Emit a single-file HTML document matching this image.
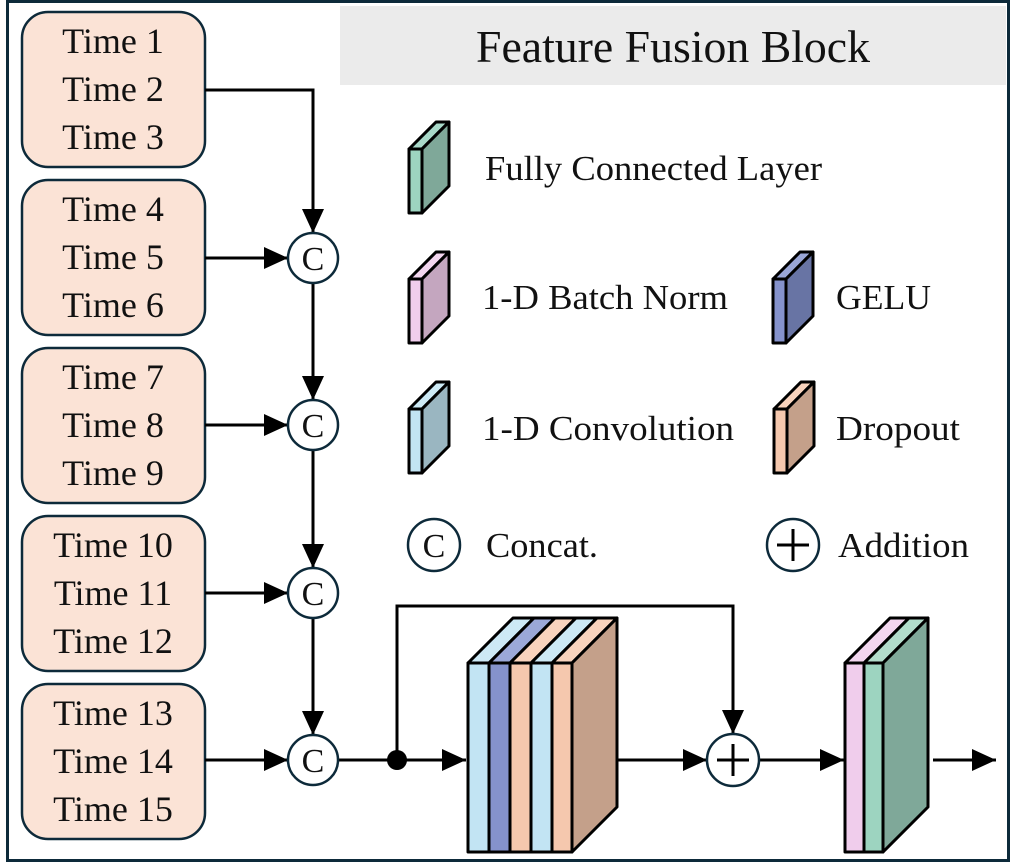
<!DOCTYPE html>
<html><head><meta charset="utf-8"><style>
html,body{margin:0;padding:0;background:#fff}
svg{display:block}
text{font-family:"Liberation Serif","Times New Roman","DejaVu Serif",serif;fill:#111}
</style></head><body>
<svg width="1016" height="867" viewBox="0 0 1016 867" xmlns="http://www.w3.org/2000/svg" font-family="Liberation Serif, Times New Roman, serif">
<defs>
<marker id="ah" markerWidth="24" markerHeight="22" refX="10" refY="5" orient="auto" markerUnits="userSpaceOnUse" viewBox="0 0 10 10" preserveAspectRatio="none"><path d="M0,0 L10,5 L0,10 z" fill="#000"/></marker>
</defs>
<rect x="0" y="0" width="1016" height="867" fill="#fff"/>
<rect x="7.5" y="1.5" width="1001" height="859" fill="none" stroke="#0d2a3a" stroke-width="3"/>
<rect x="340" y="6" width="666" height="79" fill="#ebebeb"/>
<text x="673" y="62" font-size="45" text-anchor="middle" textLength="394" lengthAdjust="spacingAndGlyphs">Feature Fusion Block</text>

<g stroke="#0d2a3a" stroke-width="2.5" fill="#fbe3d6">
<rect x="22" y="12" width="183" height="155" rx="26"/>
<rect x="22" y="180" width="183" height="155" rx="26"/>
<rect x="22" y="348" width="183" height="155" rx="26"/>
<rect x="22" y="516" width="183" height="155" rx="26"/>
<rect x="22" y="684" width="183" height="155" rx="26"/>
</g>
<g font-size="36" text-anchor="middle">
<text x="113" y="53">Time 1</text><text x="113" y="101">Time 2</text><text x="113" y="149">Time 3</text>
<text x="113" y="221">Time 4</text><text x="113" y="269">Time 5</text><text x="113" y="317">Time 6</text>
<text x="113" y="389">Time 7</text><text x="113" y="437">Time 8</text><text x="113" y="485">Time 9</text>
<text x="113" y="557">Time 10</text><text x="113" y="605">Time 11</text><text x="113" y="653">Time 12</text>
<text x="113" y="725">Time 13</text><text x="113" y="773">Time 14</text><text x="113" y="821">Time 15</text>
</g>

<g stroke="#000" stroke-width="3" fill="none">
<polyline points="205,90 313,90 313,233" marker-end="url(#ah)"/>
<line x1="205" y1="258" x2="288" y2="258" marker-end="url(#ah)"/>
<line x1="205" y1="425" x2="288" y2="425" marker-end="url(#ah)"/>
<line x1="205" y1="593" x2="288" y2="593" marker-end="url(#ah)"/>
<line x1="205" y1="760" x2="288" y2="760" marker-end="url(#ah)"/>
<line x1="313" y1="283" x2="313" y2="400" marker-end="url(#ah)"/>
<line x1="313" y1="450" x2="313" y2="568" marker-end="url(#ah)"/>
<line x1="313" y1="618" x2="313" y2="735" marker-end="url(#ah)"/>
<line x1="338" y1="760" x2="466" y2="760" marker-end="url(#ah)"/>
<polyline points="397,760 397,606 733,606 733,734" marker-end="url(#ah)"/>
<line x1="617" y1="760" x2="707" y2="760" marker-end="url(#ah)"/>
<line x1="759" y1="760" x2="844" y2="760" marker-end="url(#ah)"/>
<line x1="933" y1="760" x2="996" y2="760" marker-end="url(#ah)"/>
</g>
<circle cx="397" cy="760" r="10" fill="#000"/>

<g stroke="#0d2a3a" stroke-width="2.5" fill="#fff">
<circle cx="313" cy="258" r="25"/><circle cx="313" cy="425" r="25"/><circle cx="313" cy="593" r="25"/><circle cx="313" cy="760" r="25"/>
<circle cx="733" cy="760" r="26"/>
<circle cx="434" cy="545" r="26"/><circle cx="793" cy="545" r="26"/>
</g>
<g font-size="34" text-anchor="middle">
<text x="313" y="270">C</text><text x="313" y="437">C</text><text x="313" y="605">C</text><text x="313" y="772">C</text>
<text x="434" y="557">C</text>
</g>
<g stroke="#000" stroke-width="3">
<line x1="717" y1="760" x2="749" y2="760"/><line x1="733" y1="744" x2="733" y2="776"/>
<line x1="777" y1="545" x2="809" y2="545"/><line x1="793" y1="529" x2="793" y2="561"/>
</g>

<g stroke="#000" stroke-width="3" stroke-linejoin="round">
<polygon points="409,149 422,149 449,122 436,122" fill="#a8d8c8"/>
<polygon points="422,149 449,122 449,186 422,213" fill="#7fa899"/>
<rect x="409" y="149" width="13" height="64" fill="#9dd4c0"/>
<polygon points="409,279 422,279 449,252 436,252" fill="#f3d6ef"/>
<polygon points="422,279 449,252 449,316 422,343" fill="#c4a6bf"/>
<rect x="409" y="279" width="13" height="64" fill="#f0cdec"/>
<polygon points="409,409 422,409 449,382 436,382" fill="#cdeaf5"/>
<polygon points="422,409 449,382 449,446 422,473" fill="#9ab6c1"/>
<rect x="409" y="409" width="13" height="64" fill="#c2e4f3"/>
<polygon points="773,279 786,279 813,252 800,252" fill="#9aa6d6"/>
<polygon points="786,279 813,252 813,316 786,343" fill="#6874a4"/>
<rect x="773" y="279" width="13" height="64" fill="#8592cc"/>
<polygon points="774,409 787,409 814,382 801,382" fill="#f8d3bd"/>
<polygon points="787,409 814,382 814,446 787,473" fill="#c4a08a"/>
<rect x="774" y="409" width="13" height="64" fill="#f5c8ae"/>
</g>
<g font-size="35">
<text x="485" y="180" textLength="337" lengthAdjust="spacingAndGlyphs">Fully Connected Layer</text>
<text x="482" y="309" textLength="246" lengthAdjust="spacingAndGlyphs">1-D Batch Norm</text>
<text x="836" y="309" textLength="95" lengthAdjust="spacingAndGlyphs">GELU</text>
<text x="482" y="440" textLength="252" lengthAdjust="spacingAndGlyphs">1-D Convolution</text>
<text x="836" y="440" textLength="124" lengthAdjust="spacingAndGlyphs">Dropout</text>
<text x="486" y="557" textLength="112" lengthAdjust="spacingAndGlyphs">Concat.</text>
<text x="838" y="557" textLength="131" lengthAdjust="spacingAndGlyphs">Addition</text>
</g>

<g stroke="#000" stroke-width="3" stroke-linejoin="round">
<polygon points="468,663 489,663 534,618 513,618" fill="#cde9f5"/>
<polygon points="489,663 510,663 555,618 534,618" fill="#9ba8d8"/>
<polygon points="510,663 531,663 576,618 555,618" fill="#f8d3bd"/>
<polygon points="531,663 552,663 597,618 576,618" fill="#cde9f5"/>
<polygon points="552,663 572,663 617,618 597,618" fill="#f8d3bd"/>
<polygon points="572,663 617,618 617,807 572,852" fill="#c4a08a"/>
<rect x="468" y="663" width="21" height="189" fill="#c2e4f3"/>
<rect x="489" y="663" width="21" height="189" fill="#8592cc"/>
<rect x="510" y="663" width="21" height="189" fill="#f5c8ae"/>
<rect x="531" y="663" width="21" height="189" fill="#c2e4f3"/>
<rect x="552" y="663" width="20" height="189" fill="#f5c8ae"/>
</g>
<g stroke="#000" stroke-width="3" stroke-linejoin="round">
<polygon points="845,663 864,663 909,618 890,618" fill="#f3d6ef"/>
<polygon points="864,663 883,663 928,618 909,618" fill="#b2dccb"/>
<polygon points="883,663 928,618 928,807 883,852" fill="#7fa899"/>
<rect x="845" y="663" width="19" height="189" fill="#f0cdec"/>
<rect x="864" y="663" width="19" height="189" fill="#9dd4c0"/>
</g>
</svg>
</body></html>
